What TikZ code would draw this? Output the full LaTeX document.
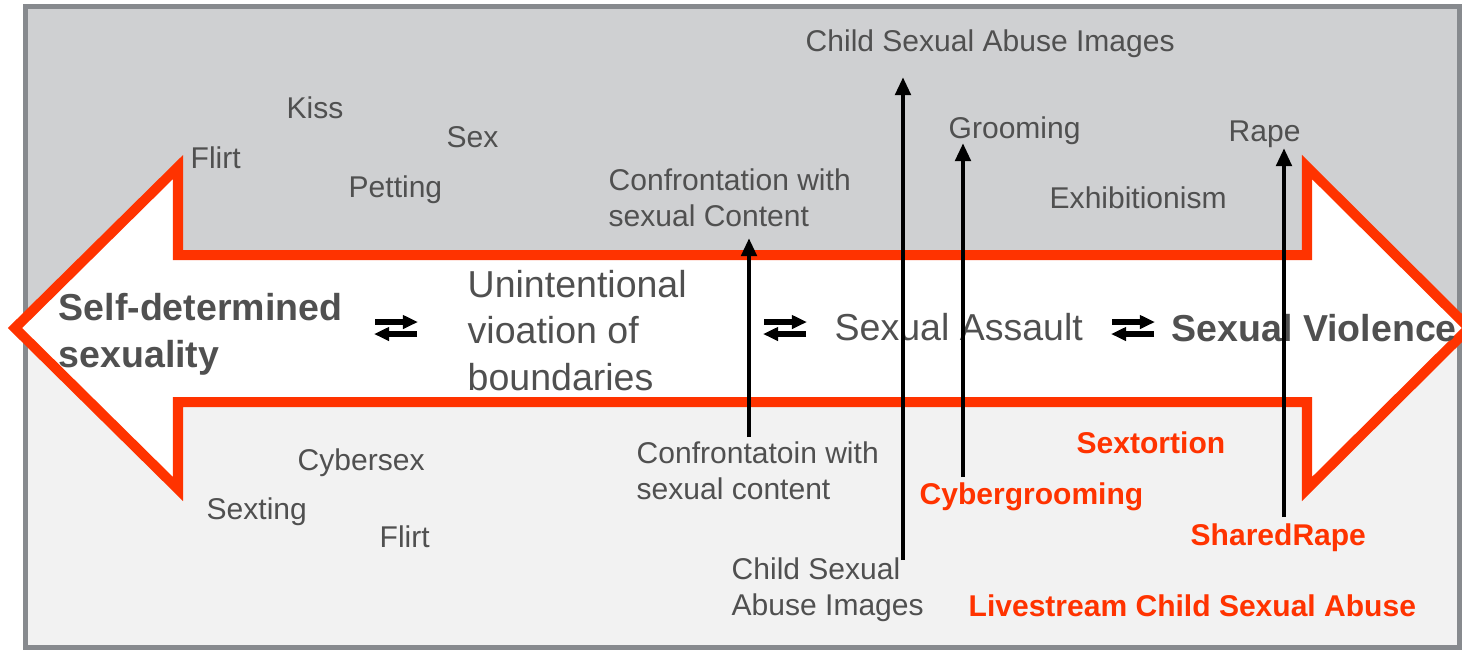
\documentclass[tikz,border=0pt]{standalone}
\usepackage{fontspec}
\setmainfont{Liberation Sans}
\usetikzlibrary{arrows.meta}
\definecolor{topgray}{HTML}{CFD0D2}
\definecolor{lowgray}{HTML}{F2F2F2}
\definecolor{framegray}{HTML}{878A8E}
\definecolor{hotred}{HTML}{FF3300}
\definecolor{txtgray}{HTML}{505050}
\def\smallfont{\fontsize{8.54}{10}\selectfont}
\def\bigfont{\fontsize{10.67}{13.1}\selectfont}
\tikzset{
	lbl/.style={font=\smallfont, text=txtgray, inner sep=0pt, anchor=base west, align=left},
	biglbl/.style={lbl, font=\bigfont},
	boldlbl/.style={lbl, font=\bigfont\bfseries},
	hotlbl/.style={lbl, font=\smallfont\bfseries, text=hotred},
	uparrow/.style={line width=1.42pt, -{Triangle[width=0.15cm,length=0.18cm]}},
	swapline/.style={line width=1.5pt, -{Triangle[width=0.13cm,length=0.15cm]}},
	swap/.pic={
		\draw[swapline] (-21,-6) -- (22,-6);
		\draw[swapline] (21,6) -- (-22,6);
	}
}
\begin{document}
\begin{tikzpicture}[x=0.01cm,y=-0.01cm]
			%%%%% START %%%%%
			\useasboundingbox (0,0) rectangle (1462,650);
			
			\fill[topgray] (28,9) rectangle (1457,328);
			\fill[lowgray] (28,328) rectangle (1457,645);
			\draw[framegray, line width=1.42pt] (25.5,6.5) rectangle (1459.5,647.5);
			
			\draw[hotred, fill=white, line width=2.85pt, miter limit=10]
				(15,328) -- (178,167) -- (178,255) -- (1307,255) -- (1307,167) -- (1469,328)
				-- (1307,489) -- (1307,402) -- (178,402) -- (178,489) -- cycle;
			
			% upper half
			\node[lbl] (csaitop) at (805,51) {Child Sexual Abuse Images};
			\node[lbl] (kiss) at (286,118) {Kiss};
			\node[lbl] (sex) at (446,147) {Sex};
			\node[lbl] (flirttop) at (190,168) {Flirt};
			\node[lbl] (petting) at (348,197) {Petting};
			\node[lbl] (conftop) at (608,226) {Confrontation with\\sexual Content};
			\node[lbl] (grooming) at (948,138) {Grooming};
			\node[lbl] (rape) at (1228,141) {Rape};
			\node[lbl] (exhib) at (1049,208) {Exhibitionism};
			
			% along the arrow
			\node[boldlbl] (selfdet) at (58,367) {Self-determined\\sexuality};
			\node[biglbl] (uninten) at (467,390) {Unintentional\\vioation of\\boundaries};
			\node[biglbl] (assault) at (834,340) {Sexual Assault};
			\node[boldlbl] (violence) at (1171,341) {Sexual Violence};
			\pic (swap1) at (396,328) {swap};
			\pic (swap2) at (785,328) {swap};
			\pic (swap3) at (1133,328) {swap};
			
			% lower half
			\node[lbl] (cybersex) at (297,470) {Cybersex};
			\node[lbl] (sexting) at (206,519) {Sexting};
			\node[lbl] (flirtlow) at (379,547) {Flirt};
			\node[lbl] (conflow) at (636,499) {Confrontatoin with\\sexual content};
			\node[lbl] (csailow) at (731,615) {Child Sexual\\Abuse Images};
			\node[hotlbl] (sextortion) at (1076,453) {Sextortion};
			\node[hotlbl] (cybergroom) at (919,504) {Cybergrooming};
			\node[hotlbl] (sharedrape) at (1190,545) {SharedRape};
			\node[hotlbl] (livestream) at (968,616) {Livestream Child Sexual Abuse};
			
			% online to offline
			\coordinate (conffrom) at (749,437);
			\coordinate (confto) at (749,238);
			\coordinate (csaifrom) at (903,560);
			\coordinate (csaito) at (903,77);
			\coordinate (groomfrom) at (963,477);
			\coordinate (groomto) at (963,143);
			\coordinate (rapefrom) at (1284,517);
			\coordinate (rapeto) at (1284,148);
			\draw[uparrow] (conffrom) -- (confto);
			\draw[uparrow] (csaifrom) -- (csaito);
			\draw[uparrow] (groomfrom) -- (groomto);
			\draw[uparrow] (rapefrom) -- (rapeto);
			
			%%%%% END %%%%%
\end{tikzpicture}
\end{document}
